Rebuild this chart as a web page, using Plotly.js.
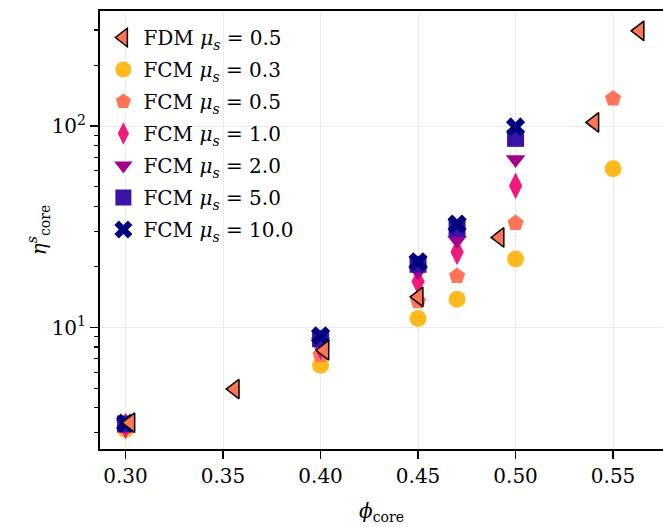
<!DOCTYPE html>
<html>
<head>
<meta charset="utf-8">
<script src="https://cdn.plot.ly/plotly-3.0.1.min.js"></script>
<style>html,body{margin:0;padding:0;background:#fff;overflow:hidden}</style>
</head>
<body>
<div id="chart" style="width:663px;height:527px;"></div>
<script>
// FDM data
const phiFDM = [0.3025, 0.356, 0.402, 0.4503, 0.4918, 0.5404, 0.5636];
const etaFDM = [3.37, 4.95, 7.71, 14.2, 28.0, 104.3, 297];

// FCM data
const phiFCM6 = [0.30, 0.40, 0.45, 0.47, 0.50, 0.55];
const phiFCM5 = [0.30, 0.40, 0.45, 0.47, 0.50];
const etaFCM03 = [3.12, 6.5, 11.1, 13.8, 21.9, 61.4];
const etaFCM05 = [3.2, 7.3, 13.5, 18.0, 33.0, 137];
const etaFCM10 = [3.25, 8.0, 16.9, 23.7, 50.5];
const etaFCM20 = [3.3, 8.5, 19.0, 27.1, 68.3];
const etaFCM50 = [3.32, 8.8, 20.6, 31.0, 86.9];
const etaFCM100 = [3.35, 9.1, 21.2, 32.6, 99];

// tick labels
const xTickVals = [0.30, 0.35, 0.40, 0.45, 0.50, 0.55];
const xTickText = ['0.30', '0.35', '0.40', '0.45', '0.50', '0.55'];
const yTickVals = [10, 100];
const yTickText = ['10<sup>1</sup>', '10<sup>2</sup>'];
const yMinorVals = [3, 4, 5, 6, 7, 8, 9, 20, 30, 40, 50, 60, 70, 80, 90, 200, 300];

const labels = [
  'FDM <i>μ<sub>s</sub></i> = 0.5',
  'FCM <i>μ<sub>s</sub></i> = 0.3',
  'FCM <i>μ<sub>s</sub></i> = 0.5',
  'FCM <i>μ<sub>s</sub></i> = 1.0',
  'FCM <i>μ<sub>s</sub></i> = 2.0',
  'FCM <i>μ<sub>s</sub></i> = 5.0',
  'FCM <i>μ<sub>s</sub></i> = 10.0'
];

function tr(x, y, name, rank, symbol, color, size, line) {
  return {
    type: 'scatter', mode: 'markers', x: x, y: y, name: name,
    legendrank: rank, legendgroup: 'g' + rank,
    marker: {symbol: symbol, color: color, size: size, line: line || {width: 0}}
  };
}

const data = [
  tr(phiFCM6, etaFCM03, labels[1], 2, 'circle', '#FFB81E', 17),
  tr(phiFCM6, etaFCM05, labels[2], 3, 'pentagon', '#FF7456', 17),
  tr(phiFCM5, etaFCM10, labels[3], 4, 'diamond-tall', '#F0197C', 19),
  tr(phiFCM5, etaFCM20, labels[4], 5, 'triangle-down', '#A4008E', 17),
  tr(phiFCM5, etaFCM50, labels[5], 6, 'square', '#3A14A8', 17),
  tr(phiFCM5, etaFCM100, labels[6], 7, 'x', '#00007F', 17),
  tr(phiFDM, etaFDM, labels[0], 1, 'triangle-left', '#FF7456', 17, {width: 1.5, color: '#000'})
];

const serif = '"DejaVu Serif", "Liberation Serif", serif';
const layout = {
  width: 663, height: 527,
  margin: {l: 100, r: 0, t: 11, b: 78},
  paper_bgcolor: '#fff', plot_bgcolor: '#fff',
  font: {family: serif, size: 20, color: '#000'},
  showlegend: true,
  legend: {x: 0.006, y: 0.984, xanchor: 'left', yanchor: 'top', bgcolor: 'rgba(0,0,0,0)',
           font: {family: serif, size: 20}, tracegroupgap: 3, itemwidth: 30},
  xaxis: {
    range: [0.2869, 0.5756], tickvals: xTickVals, ticktext: xTickText,
    showline: true, linewidth: 2, linecolor: '#000', mirror: true,
    ticks: 'outside', ticklen: 8, tickwidth: 1.5, tickcolor: '#000',
    showgrid: true, gridcolor: '#ebebeb', gridwidth: 1, zeroline: false,
    title: {text: '<i>ϕ</i><sub>core</sub>', font: {family: serif, size: 20}, standoff: 17}
  },
  yaxis: {
    type: 'log', range: [0.397, 2.5713], tickvals: yTickVals, ticktext: yTickText,
    showline: true, linewidth: 2, linecolor: '#000', mirror: false,
    ticks: 'outside', ticklen: 8, tickwidth: 1.5, tickcolor: '#000',
    minor: {tickvals: yMinorVals, ticks: 'outside', ticklen: 4.5, tickwidth: 1.2, tickcolor: '#000', showgrid: false},
    showgrid: true, gridcolor: '#ebebeb', gridwidth: 1, zeroline: false,
    title: {text: '<i>η</i><sup><i>s</i></sup><sub>core</sub>', font: {family: serif, size: 20}, standoff: 0}
  }
};

Plotly.newPlot('chart', data, layout, {displayModeBar: false, staticPlot: true});
</script>
</body>
</html>
